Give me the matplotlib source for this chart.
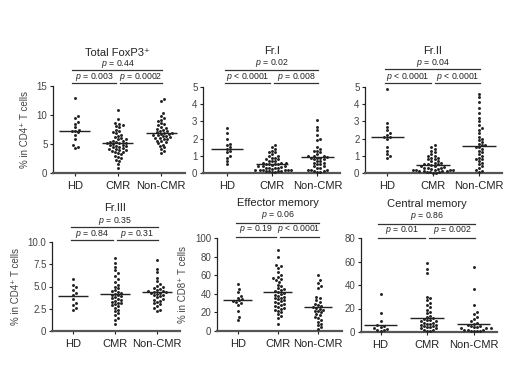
import numpy as np
import matplotlib
matplotlib.use("Agg")
import matplotlib.pyplot as plt
import matplotlib.transforms as mtrans

plt.rcParams['font.family'] = ['Liberation Sans', 'DejaVu Sans']
plt.rcParams['mathtext.fontset'] = 'custom'
plt.rcParams['mathtext.it'] = 'Liberation Sans:italic'
plt.rcParams['mathtext.rm'] = 'Liberation Sans'

groups = ["HD", "CMR", "Non-CMR"]

# ---------------- data ----------------
total_hd = [13.0, 9.8, 9.4, 8.8, 8.5, 7.9, 7.5, 7.3, 7.2, 7.0, 6.6, 5.8, 4.8, 4.5, 4.3]
total_cmr = [10.8, 9.3, 8.6, 8.5, 8.3, 8.1, 7.9, 7.5, 7.3, 7.0, 6.9, 6.6, 6.4, 6.2, 6.0, 5.9,
             5.8, 5.6, 5.5, 5.4, 5.3, 5.2, 5.2, 5.1, 5.0, 4.9, 4.8, 4.7, 4.6, 4.5, 4.4, 4.3,
             4.2, 4.1, 4.0, 3.9, 3.8, 3.7, 3.6, 3.4, 3.2, 3.0, 2.8, 2.5, 2.3, 2.0, 1.5, 0.9]
total_non = [12.8, 12.4, 10.4, 9.9, 9.5, 9.2, 8.9, 8.6, 8.4, 8.2, 8.0, 7.8, 7.6, 7.5, 7.3,
             7.2, 7.0, 6.9, 6.9, 6.8, 6.7, 6.6, 6.5, 6.4, 6.3, 6.2, 6.1, 6.0, 5.9, 5.8, 5.6,
             5.5, 5.3, 5.1, 4.9, 4.6, 4.4, 4.1, 3.8, 3.4]

fr1_hd = [2.6, 2.3, 2.0, 1.7, 1.6, 1.5, 1.4, 1.3, 1.2, 1.0, 0.9, 0.7, 0.5]
fr1_cmr = [1.6, 1.5, 1.4, 1.3, 1.2, 1.2, 1.1, 1.0, 1.0, 0.9, 0.9, 0.8, 0.8, 0.7, 0.7, 0.7,
           0.6, 0.6, 0.6, 0.55, 0.5, 0.5, 0.5, 0.45, 0.4, 0.4, 0.4, 0.35, 0.3, 0.3, 0.3, 0.3,
           0.25, 0.2, 0.2, 0.2, 0.2, 0.15, 0.15, 0.1, 0.1, 0.1, 0.1, 0.05, 0.05]
fr1_non = [3.1, 2.7, 2.5, 2.2, 2.0, 1.9, 1.5, 1.4, 1.3, 1.3, 1.2, 1.1, 1.0, 1.0, 1.0, 0.95,
           0.9, 0.9, 0.85, 0.8, 0.8, 0.7, 0.7, 0.6, 0.6, 0.5, 0.5, 0.4, 0.4, 0.3, 0.3, 0.2,
           0.2, 0.15, 0.1, 0.1, 0.05, 0.05]

fr2_hd = [4.9, 2.9, 2.7, 2.5, 2.3, 2.2, 2.1, 2.1, 2.0, 1.5, 1.3, 1.1, 1.0, 0.9]
fr2_cmr = [1.6, 1.5, 1.4, 1.3, 1.2, 1.1, 1.0, 1.0, 0.9, 0.9, 0.8, 0.8, 0.7, 0.7, 0.6, 0.6,
           0.5, 0.5, 0.5, 0.45, 0.4, 0.4, 0.35, 0.3, 0.3, 0.3, 0.25, 0.25, 0.2, 0.2, 0.2,
           0.15, 0.15, 0.1, 0.1, 0.1, 0.1, 0.05, 0.05, 0.05, 0.02, 0.02]
fr2_non = [4.6, 4.4, 4.1, 3.8, 3.5, 3.2, 3.0, 2.8, 2.6, 2.5, 2.3, 2.1, 2.0, 1.9, 1.8, 1.7,
           1.6, 1.6, 1.5, 1.5, 1.4, 1.3, 1.2, 1.1, 1.0, 0.9, 0.8, 0.8, 0.7, 0.6, 0.5, 0.4,
           0.3, 0.2, 0.1, 0.05]

fr3_hd = [5.8, 5.2, 4.9, 4.6, 4.3, 4.0, 3.6, 3.2, 2.9, 2.6, 2.4]
fr3_cmr = [8.2, 7.6, 7.2, 6.8, 6.5, 6.2, 5.8, 5.5, 5.2, 5.0, 4.8, 4.6, 4.5, 4.4, 4.3, 4.2,
           4.1, 4.0, 3.9, 3.8, 3.7, 3.6, 3.5, 3.4, 3.3, 3.2, 3.1, 3.0, 2.9, 2.8, 2.6, 2.4,
           2.2, 2.0, 1.8, 1.5, 1.2, 0.8]
fr3_non = [8.0, 7.0, 6.6, 6.0, 5.6, 5.3, 5.1, 4.9, 4.8, 4.7, 4.6, 4.5, 4.5, 4.4, 4.4, 4.3,
           4.3, 4.2, 4.1, 4.0, 3.9, 3.8, 3.6, 3.5, 3.4, 3.3, 3.1, 3.0, 2.8, 2.6, 2.4, 2.3]

em_hd = [51, 45, 42, 38, 36, 34, 33, 32, 31, 30, 28, 22, 15, 12]
em_cmr = [87, 80, 71, 70, 68, 63, 60, 58, 57, 56, 55, 53, 50, 48, 46, 45, 44, 43, 42, 41,
          40, 39, 38, 37, 36, 35, 34, 33, 32, 31, 30, 29, 28, 27, 26, 25, 24, 23, 22, 20,
          18, 16, 14, 8]
em_non = [60, 55, 52, 48, 46, 37, 35, 33, 31, 29, 28, 27, 26, 25, 24, 23, 22, 21, 20, 18,
          17, 15, 14, 12, 10, 8, 6, 4, 2]

cm_hd = [32, 16, 9, 6, 5, 4, 3, 2.5, 2, 1.5, 1]
cm_cmr = [59, 54, 50, 30, 29, 27, 25, 23, 21, 19, 17, 16, 14, 13, 12, 11, 10, 10, 9, 9, 8,
          8, 7, 7, 6, 6, 5, 5, 4, 4, 3, 3, 2, 2, 1, 1]
cm_non = [55, 37, 23, 17, 15, 13, 11, 9, 8, 7, 6, 5, 5, 4, 4, 3, 3, 3, 2, 2, 2, 1, 1, 1, 0.5]

center_total = [7.3, 5.2, 6.9]
center_fr1 = [1.4, 0.55, 0.95]
center_fr2 = [2.1, 0.45, 1.55]
center_fr3 = [3.9, 4.2, 4.4]
center_em = [33, 42, 26]
center_cm = [6, 12, 7]

titles = ["Total FoxP3\u207a", "Fr.I", "Fr.II", "Fr.III", "Effector memory", "Central memory"]
p_top = ["0.44", "0.02", "0.04", "0.35", "0.06", "0.86"]
p_left = ["= 0.003", "< 0.0001", "< 0.0001", "= 0.84", "= 0.19", "= 0.01"]
p_right = ["= 0.0002", "= 0.008", "< 0.0001", "= 0.31", "< 0.0001", "= 0.002"]
ylabels = ["% in CD4\u207a T cells", None, None, "% in CD4\u207a T cells", "% in CD8\u207a T cells", None]
yticks = [[0, 5, 10, 15], [0, 1, 2, 3, 4, 5], [0, 1, 2, 3, 4, 5],
          [0, 2.5, 5.0, 7.5, 10.0], [0, 20, 40, 60, 80, 100], [0, 20, 40, 60, 80]]
yticklabels = [["0", "5", "10", "15"], ["0", "1", "2", "3", "4", "5"], ["0", "1", "2", "3", "4", "5"],
               ["0", "2.5", "5.0", "7.5", "10.0"], ["0", "20", "40", "60", "80", "100"],
               ["0", "20", "40", "60", "80"]]

panels = [
    (total_hd, total_cmr, total_non, center_total),
    (fr1_hd, fr1_cmr, fr1_non, center_fr1),
    (fr2_hd, fr2_cmr, fr2_non, center_fr2),
    (fr3_hd, fr3_cmr, fr3_non, center_fr3),
    (em_hd, em_cmr, em_non, center_em),
    (cm_hd, cm_cmr, cm_non, center_cm),
]

# ---------------- layout (pixels) ----------------
W, H = 520, 391
# left, right, top, bottom, xlim, title_y, topText, topLine, lowText, lowLine
layout = [
    (53, 185, 86, 173, (-0.5, 2.55), 53, 64, 70, 77, 83),
    (203, 340, 87, 173, (-0.53, 2.5), 51, 63, 70, 77, 83),
    (365, 502, 87, 173, (-0.48, 2.5), 51, 63, 69, 77, 83),
    (52, 180, 242, 331, (-0.5, 2.55), 208, 221, 227, 234, 240),
    (217, 342, 238, 331, (-0.52, 2.6), 203, 215, 223, 229, 237),
    (361, 497, 238, 332, (-0.42, 2.5), 204, 216, 224, 230, 238),
]

fig = plt.figure(figsize=(W / 100, H / 100), dpi=100)
fig.patch.set_facecolor("white")
col = "#222222"


def swarm_offsets(ax, vals, xc, dmin):
    # simple beeswarm computed in display space
    vals = np.asarray(vals, float)
    order = np.argsort(vals)
    pts = ax.transData.transform(np.column_stack([np.full(len(vals), xc), vals]))
    ys = pts[:, 1]
    x0 = pts[0, 0]
    placed = []
    xs = np.zeros(len(vals))
    for i in order:
        y = ys[i]
        cands = [0.0]
        for k in range(1, 40):
            cands += [k * dmin * 0.5, -k * dmin * 0.5]
        for c in cands:
            ok = True
            for (px, py) in placed:
                if (px - c) ** 2 + (py - y) ** 2 < dmin ** 2:
                    ok = False
                    break
            if ok:
                xs[i] = c
                placed.append((c, y))
                break
    disp = np.column_stack([x0 + xs, ys])
    return ax.transData.inverted().transform(disp)[:, 0]


for k, (panel, lay) in enumerate(zip(panels, layout)):
    l, r, t, b, xl, ty, tt, tl, lt, ll = lay
    ax = fig.add_axes([l / W, 1 - b / H, (r - l) / W, (b - t) / H])
    ymax = yticks[k][-1]
    ax.set_ylim(0, ymax)
    ax.set_xlim(*xl)
    for s in ["top", "right"]:
        ax.spines[s].set_visible(False)
    ax.spines["left"].set_color(col)
    ax.spines["bottom"].set_color("#555555")
    ax.spines["left"].set_linewidth(0.9)
    ax.spines["bottom"].set_linewidth(1.6)
    ax.set_xticks(range(3))
    ax.set_xticklabels(groups, fontsize=8, color=col)
    ax.set_yticks(yticks[k])
    ax.set_yticklabels(yticklabels[k], fontsize=7, color="#444444")
    ax.tick_params(axis="both", length=2.5, width=0.8, pad=1.5, color=col)
    ax.tick_params(axis="x", pad=3)
    if ylabels[k]:
        ax.set_ylabel(ylabels[k], fontsize=7, color="#444444", labelpad=5)

    fig.canvas.draw()
    for g in range(3):
        vals = panel[g]
        xs = swarm_offsets(ax, vals, g, 3.1)
        ax.scatter(xs, vals, s=4.5, color=col, linewidths=0, zorder=3, clip_on=False)
        c = panel[3][g]
        ax.plot([g - 0.36, g + 0.36], [c, c], color=col, lw=1.0, zorder=4, solid_capstyle="butt")

    trans = mtrans.blended_transform_factory(ax.transData, ax.transAxes)

    def fy(px):
        return (b - px) / (b - t)

    ax.text(1.0, fy(ty), titles[k], transform=trans, ha="center", va="center",
            fontsize=8, color=col)
    ax.plot([-0.05, 2.02], [fy(tl), fy(tl)], transform=trans, color="#333333", lw=0.9, clip_on=False)
    ax.text(1.0, fy(tt), r"$\it{p}$ = " + p_top[k], transform=trans, ha="center", va="center",
            fontsize=6.3, color=col)
    ax.plot([-0.05, 0.95], [fy(ll), fy(ll)], transform=trans, color="#333333", lw=0.9, clip_on=False)
    ax.plot([1.05, 2.02], [fy(ll), fy(ll)], transform=trans, color="#333333", lw=0.9, clip_on=False)
    ax.text(0.45, fy(lt), r"$\it{p}$ " + p_left[k], transform=trans, ha="center", va="center",
            fontsize=6.3, color=col)
    ax.text(1.53, fy(lt), r"$\it{p}$ " + p_right[k], transform=trans, ha="center", va="center",
            fontsize=6.3, color=col)

fig.savefig("out.png", dpi=100, facecolor="white")
